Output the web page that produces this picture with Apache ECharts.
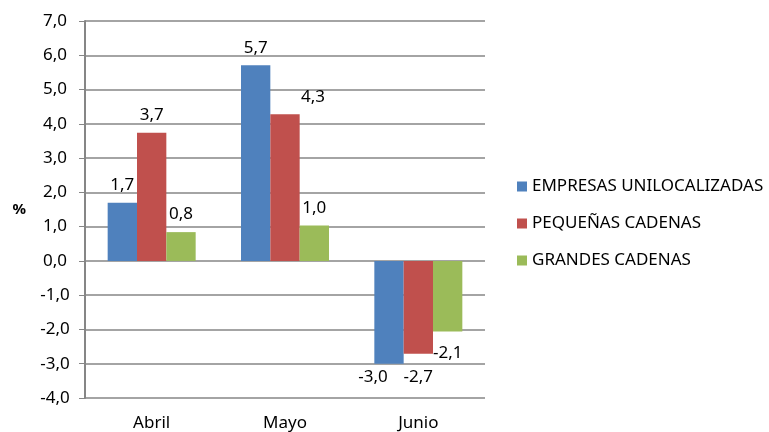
<!DOCTYPE html>
<html>
<head>
<meta charset="utf-8">
<script src="https://cdn.jsdelivr.net/npm/echarts@6/dist/echarts.min.js"></script>
<style>
  html, body { margin: 0; padding: 0; background: #fff; }
  #main { width: 769px; height: 432px; }
</style>
</head>
<body>
<div id="main"></div>
<script>
// datos del gráfico
var meses = ['Abril', 'Mayo', 'Junio'];
var unilocalizadas = [1.7, 5.71, -3.0];
var pequenas = [3.74, 4.28, -2.71];
var grandes = [0.84, 1.03, -2.06];
var series_nombres = ['EMPRESAS UNILOCALIZADAS', 'PEQUEÑAS CADENAS', 'GRANDES CADENAS'];
var colores = ['#4F81BD', '#C0504D', '#9BBB59'];

// desplazamiento de etiquetas (como en el original de Excel)
var ajusteEtiquetas = [
  [[0, 0], [0, 0], [-16, 0]],
  [[0, 0], [28, 0], [0, 10]],
  [[0, 0], [0, 0], [0, 8]]
];

var fuente = '"Noto Sans", "DejaVu Sans", sans-serif';
function coma(v) { return v.toFixed(1).replace('.', ','); }

function construir(valores, idx) {
  return valores.map(function (v, i) {
    return {
      value: v,
      label: {
        position: v < 0 ? 'bottom' : 'top',
        distance: v < 0 ? 5 : 9,
        offset: ajusteEtiquetas[idx][i]
      }
    };
  });
}

var myChart = echarts.init(document.getElementById('main'));
var datos = [unilocalizadas, pequenas, grandes];

var option = {
  animation: false,
  textStyle: { fontFamily: fuente },
  grid: { left: 85, right: 284, top: 21, bottom: 34 },
  legend: {
    orient: 'vertical',
    left: 517,
    top: 178,
    padding: 0,
    itemWidth: 10,
    itemHeight: 10,
    itemGap: 20,
    icon: 'rect',
    textStyle: { fontFamily: fuente, fontSize: 17, color: '#000' },
    data: series_nombres
  },
  xAxis: {
    type: 'category',
    data: meses,
    axisLine: { show: false },
    axisTick: { show: false },
    axisLabel: { color: '#000', fontSize: 17, fontFamily: fuente, margin: 17 }
  },
  yAxis: {
    type: 'value',
    min: -4,
    max: 7,
    interval: 1,
    name: '%',
    nameLocation: 'middle',
    nameRotate: 0,
    nameGap: 59,
    nameTextStyle: { fontWeight: 'bold', fontSize: 15, color: '#000', fontFamily: fuente, padding: [8, 0, 0, 0] },
    axisLine: { show: true, lineStyle: { color: '#868686', width: 2 } },
    axisTick: { show: true, inside: false, length: 6, lineStyle: { color: '#868686' } },
    splitLine: { lineStyle: { color: '#868686', width: 1.5 } },
    axisLabel: {
      color: '#000',
      fontSize: 17,
      fontFamily: fuente,
      align: 'center',
      margin: 30,
      formatter: coma
    }
  },
  series: datos.map(function (d, k) {
    return {
      name: series_nombres[k],
      type: 'bar',
      data: construir(d, k),
      itemStyle: { color: colores[k] },
      barGap: '0%',
      barCategoryGap: '34%',
      label: {
        show: true,
        color: '#000',
        fontSize: 17,
        fontFamily: fuente,
        formatter: function (p) { return coma(p.value); }
      }
    };
  })
};

myChart.setOption(option);
</script>
</body>
</html>
